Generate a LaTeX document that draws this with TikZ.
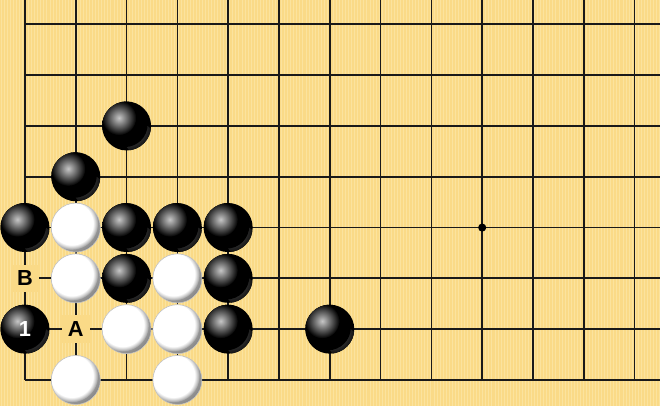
\documentclass[tikz,border=0pt]{standalone}
\usepackage{fontspec}
\setsansfont{Liberation Sans}
\usetikzlibrary{fadings}
\definecolor{board}{RGB}{250,218,135}
\definecolor{grain}{RGB}{251,227,158}

\begin{document}
\begin{tikzpicture}[
  stone/.style={circle, inner sep=0pt, minimum size=0.964cm},
  blackstone/.style={stone, fill=black, path picture={
    \shade [inner color=black!55, outer color=black] ([shift={(0.26,-0.26)}]path picture bounding box.center) circle (0.3);
    \fill [black] ([shift={(-0.035,0.035)}]path picture bounding box.center) circle (0.45);
    \shade [inner color=black!22, outer color=black] ([shift={(-0.15,0.16)}]path picture bounding box.center) circle (0.34);
  }},
  whitestone/.style={stone, fill=white, draw=black!25, line width=0.3pt, path picture={
    \shade [inner color=white, outer color=black!48] ([shift={(-0.13,0.13)}]path picture bounding box.center) circle (0.66);
    \fill [white, path fading=circle with fuzzy edge 20 percent] ([shift={(-0.08,0.08)}]path picture bounding box.center) circle (0.52);
  }},
  boardlabel/.style={font=\sffamily\bfseries\fontsize{12.2}{14}\selectfont, inner sep=0pt, minimum size=0.54cm}
]
\useasboundingbox (-0.492, -0.512) rectangle (12.5, 7.48);

% wood
\fill [board] (-0.492, -0.512) rectangle (12.5, 7.48);
\foreach \s in {0,...,216}
  \draw [grain, line width=0.015cm] (-0.47 + 0.06*\s, -0.512) -- (-0.47 + 0.06*\s, 7.48);

% lines
\foreach \x in {0,...,12}
  \draw [black!90, line width=1pt] (\x, 0) -- (\x, 7.48);
\foreach \y in {0,...,7}
  \draw [black!90, line width=1pt] (0, \y) -- (12.5, \y);
\fill [black] (9, 3) circle (0.08);

% letters
\node [boardlabel, fill=board] (B) at (0, 2) {B};
\node [boardlabel, fill=board] (A) at (1, 1) {A};

% black
\node [blackstone] (b25) at (2, 5) {};
\node [blackstone] (b14) at (1, 4) {};
\node [blackstone] (b03) at (0, 3) {};
\node [blackstone] (b23) at (2, 3) {};
\node [blackstone] (b33) at (3, 3) {};
\node [blackstone] (b43) at (4, 3) {};
\node [blackstone] (b22) at (2, 2) {};
\node [blackstone] (b42) at (4, 2) {};
\node [blackstone] (b01) at (0, 1) {};
\node [boardlabel, text=white] (one) at (b01) {1};
\node [blackstone] (b41) at (4, 1) {};
\node [blackstone] (b61) at (6, 1) {};

% white
\node [whitestone] (w13) at (1, 3) {};
\node [whitestone] (w12) at (1, 2) {};
\node [whitestone] (w32) at (3, 2) {};
\node [whitestone] (w21) at (2, 1) {};
\node [whitestone] (w31) at (3, 1) {};
\node [whitestone] (w10) at (1, 0) {};
\node [whitestone] (w30) at (3, 0) {};
\end{tikzpicture}
\end{document}
